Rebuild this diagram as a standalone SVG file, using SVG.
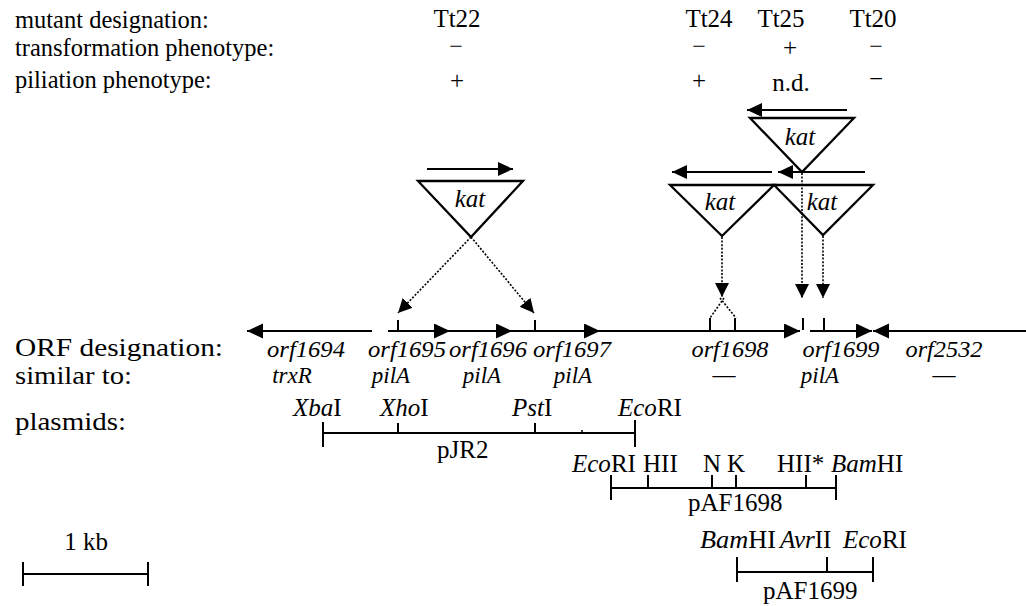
<svg xmlns="http://www.w3.org/2000/svg" width="1026" height="606" viewBox="0 0 1026 606">
<style>
text{font-family:"Liberation Serif","Times New Roman",serif;font-size:25px;fill:#000}
.lab{font-size:24.5px}
.big{font-size:25px}
.mn{font-size:24px}
.orf{font-size:23px;font-style:italic}
.it{font-style:italic}
.ln{stroke:#000;stroke-width:2;fill:none}
.tri{stroke:#000;stroke-width:2.3;fill:#fff;stroke-linejoin:miter}
.dot{stroke:#000;stroke-width:1.6;stroke-dasharray:2 1.6;fill:none}
</style>
<defs>
<marker id="ah" markerUnits="userSpaceOnUse" markerWidth="17" markerHeight="16" refX="16" refY="7.5" orient="auto"><path d="M0,0 L16,7.5 L0,15 z" fill="#000"/></marker>
<marker id="ak" markerUnits="userSpaceOnUse" markerWidth="17" markerHeight="16" refX="15" refY="7" orient="auto"><path d="M0,0 L15,7 L0,14 z" fill="#000"/></marker>
<marker id="dh" markerUnits="userSpaceOnUse" markerWidth="15" markerHeight="15" refX="14" refY="7" orient="auto"><path d="M0,0 L14,7 L0,14 z" fill="#000"/></marker>
</defs>
<rect width="1026" height="606" fill="#fff"/>

<g id="header">
<text class="lab" x="15" y="28">mutant designation:</text>
<text class="lab" x="15" y="56">transformation phenotype:</text>
<text class="lab" x="15" y="88">piliation phenotype:</text>
<g text-anchor="middle">
<text x="457" y="27">Tt22</text><text class="mn" x="456" y="54">−</text><text x="457" y="89">+</text>
<text x="709" y="27">Tt24</text><text class="mn" x="699" y="54">−</text><text x="699" y="89">+</text>
<text x="781" y="27">Tt25</text><text x="790" y="56">+</text><text x="791" y="91">n.d.</text>
<text x="873" y="27">Tt20</text><text class="mn" x="876" y="54">−</text><text x="876" y="87">−</text>
</g>
</g>

<g id="kat-Tt22">
<path class="ln" d="M427,169 H513" marker-end="url(#ak)"/>
<path class="tri" d="M418,181 H523 L471,237 z"/>
<text class="it" x="470" y="207" text-anchor="middle">kat</text>
</g>
<g id="kat-Tt25">
<path class="ln" d="M847,110 H747" marker-end="url(#ak)"/>
<path class="tri" d="M750,118 H854 L802,172 z"/>
<text class="it" x="800" y="145" text-anchor="middle">kat</text>
</g>
<g id="kat-Tt24">
<path class="ln" d="M772,172 H672" marker-end="url(#ak)"/>
<path class="tri" d="M670,185 H774 L722,236 z"/>
<text class="it" x="720" y="210" text-anchor="middle">kat</text>
</g>
<g id="kat-Tt20">
<path class="ln" d="M865,172 H778" marker-end="url(#ak)"/>
<path class="tri" d="M774,185 H873 L823,235 z"/>
<text class="it" x="822" y="210" text-anchor="middle">kat</text>
</g>

<g id="connectors">
<path class="dot" d="M471,237 L398,313" marker-end="url(#dh)"/>
<path class="dot" d="M471,237 L534,313" marker-end="url(#dh)"/>
<path class="dot" d="M722,237 V297" marker-end="url(#dh)"/>
<path class="dot" d="M724,298 L710,318 M720,298 L736,318"/>
<path class="dot" d="M802,173 V298" marker-end="url(#dh)"/>
<path class="dot" d="M823,236 V298" marker-end="url(#dh)"/>
</g>

<g id="orf-map">
<path class="ln" d="M372,331 H247" marker-end="url(#ah)"/>
<path class="ln" d="M388,331 H450" marker-end="url(#ah)"/>
<path class="ln" d="M450,331 H512" marker-end="url(#ah)"/>
<path class="ln" d="M512,331 H600" marker-end="url(#ah)"/>
<path class="ln" d="M600,331 H800" marker-end="url(#ah)"/>
<path class="ln" d="M810,331 H872" marker-end="url(#ah)"/>
<path class="ln" d="M1026,331 H873" marker-end="url(#ah)"/>
<path class="ln" d="M398,320 V331 M535,320 V331 M710,318 V331 M735,318 V331 M803,318 V330 M824,318 V331"/>
<text class="big" x="15" y="356" textLength="208" lengthAdjust="spacingAndGlyphs">ORF designation:</text>
<text class="big" x="15" y="384" textLength="117" lengthAdjust="spacingAndGlyphs">similar to:</text>
<g text-anchor="middle">
<text class="orf" x="306" y="357" textLength="78" lengthAdjust="spacingAndGlyphs">orf1694</text>
<text class="orf" x="407" y="357" textLength="78" lengthAdjust="spacingAndGlyphs">orf1695</text>
<text class="orf" x="488" y="357" textLength="78" lengthAdjust="spacingAndGlyphs">orf1696</text>
<text class="orf" x="572" y="357" textLength="78" lengthAdjust="spacingAndGlyphs">orf1697</text>
<text class="orf" x="730" y="357" textLength="77" lengthAdjust="spacingAndGlyphs">orf1698</text>
<text class="orf" x="841" y="357" textLength="77" lengthAdjust="spacingAndGlyphs">orf1699</text>
<text class="orf" x="944" y="357" textLength="77" lengthAdjust="spacingAndGlyphs">orf2532</text>
<text class="orf" x="292" y="383">trxR</text>
<text class="orf" x="391" y="383">pilA</text>
<text class="orf" x="482" y="383">pilA</text>
<text class="orf" x="573" y="383">pilA</text>
<text class="orf" x="820" y="383">pilA</text>
<text class="orf" x="724" y="382" style="font-style:normal">—</text>
<text class="orf" x="944" y="382" style="font-style:normal">—</text>
</g>
</g>

<g id="plasmids">
<text class="big" x="15" y="430" textLength="111" lengthAdjust="spacingAndGlyphs">plasmids:</text>
<g id="pJR2">
<text x="293" y="416"><tspan class="it">Xba</tspan>I</text>
<text x="380" y="416"><tspan class="it">Xho</tspan>I</text>
<text x="512" y="416"><tspan class="it">Pst</tspan>I</text>
<text x="618" y="416"><tspan class="it">Eco</tspan>RI</text>
<path class="ln" d="M323,433 H635 M323,422 V447 M398,423 V433 M535,423 V433 M635,420 V447"/>
<circle cx="582" cy="431" r="1" fill="#000"/>
<text x="437" y="458">pJR2</text>
</g>
<g id="pAF1698">
<text x="572" y="472"><tspan class="it">Eco</tspan>RI</text>
<text x="643" y="472">HII</text>
<text x="703" y="472">N</text>
<text x="727" y="472">K</text>
<text x="777" y="472">HII*</text>
<text x="831" y="472"><tspan class="it">Bam</tspan>HI</text>
<path class="ln" d="M611,488 H836 M611,475 V500 M648,475 V488 M712,475 V488 M736,475 V488 M806,475 V488 M836,475 V500"/>
<text x="688" y="511">pAF1698</text>
</g>
<g id="pAF1699">
<text x="700" y="548" textLength="76" lengthAdjust="spacingAndGlyphs"><tspan class="it">Bam</tspan>HI</text>
<text x="780" y="548"><tspan class="it">Avr</tspan>II</text>
<text x="843" y="548"><tspan class="it">Eco</tspan>RI</text>
<path class="ln" d="M737,572 H873 M737,557 V582 M827,557 V572 M873,557 V582"/>
<text x="763" y="599">pAF1699</text>
</g>
</g>

<g id="scale">
<text x="86" y="550" text-anchor="middle">1 kb</text>
<path class="ln" d="M23,574 H148 M23,562 V586 M148,562 V586"/>
</g>
</svg>
